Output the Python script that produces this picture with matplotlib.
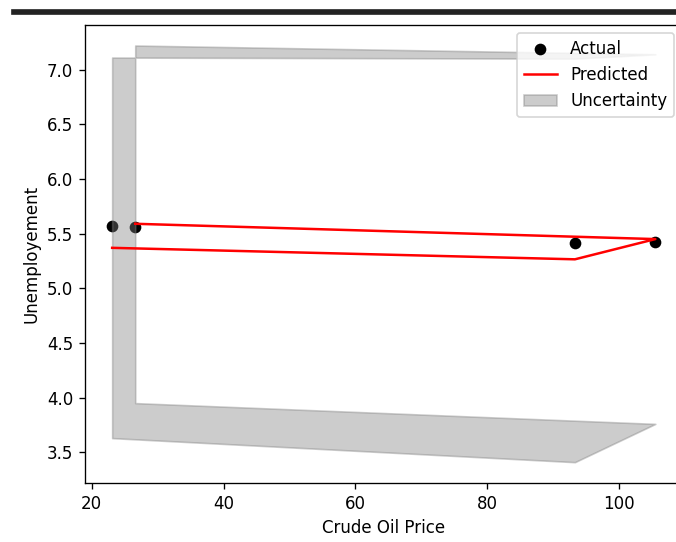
import matplotlib.pyplot as plt
from matplotlib.patches import Rectangle
import numpy as np

# Crude oil price vs unemployment, model output in original (unsorted) row order
oil_price = [26.6, 105.5, 93.3, 23.1]
unemployment_actual = [5.56, 5.42, 5.41, 5.57]
unemployment_pred = [5.59, 5.45, 5.265, 5.37]
pred_lower = [3.95, 3.76, 3.41, 3.63]
pred_upper = [7.22, 7.14, 7.10, 7.11]

DPI = 120
W, H = 676, 542


def plot_prediction(save_path):
    fig = plt.figure(figsize=(W / DPI, H / DPI), dpi=DPI)
    ax = fig.add_axes([85 / W, 59 / H, 597.5 / W, 458.3 / H])

    ax.scatter(oil_price, unemployment_actual, color="black", label="Actual")
    ax.plot(oil_price, unemployment_pred, color="red", label="Predicted")
    ax.fill_between(oil_price, pred_lower, pred_upper, color="gray", alpha=0.4,
                    label="Uncertainty")

    ax.set_xlabel("Crude Oil Price")
    ax.set_ylabel("Unemployement")
    ax.set_yticks(np.arange(3.5, 7.01, 0.5))
    ax.legend(loc="upper right")

    # separator bar above the figure
    fig.patches.append(Rectangle((12 / W, 1 - 14 / H), 1, 4 / H,
                                 transform=fig.transFigure, color="#222222",
                                 zorder=5))

    fig.savefig(save_path, dpi=DPI)
    plt.close(fig)


plot_prediction("out.png")
